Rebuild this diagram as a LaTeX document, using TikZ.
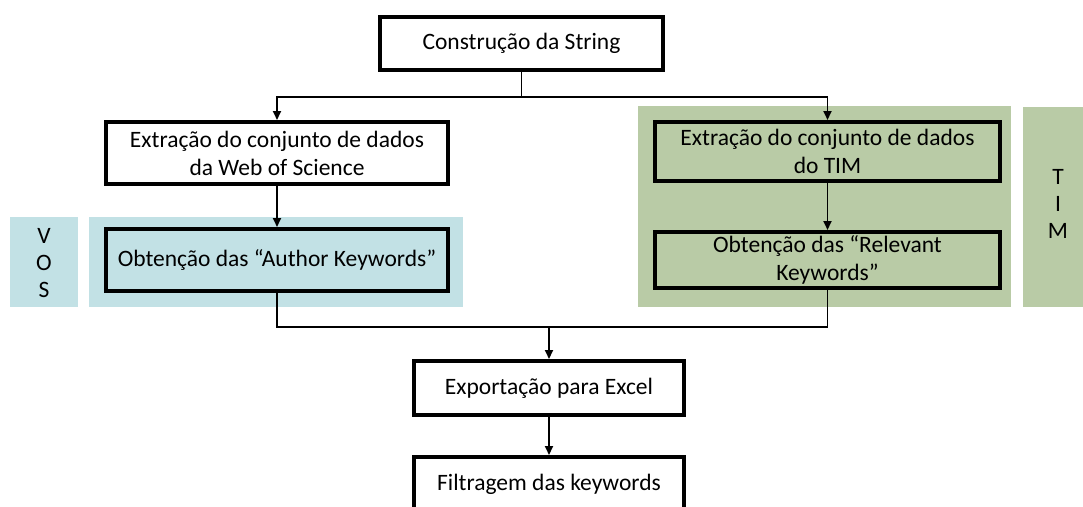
\documentclass[tikz,border=0pt]{standalone}
\usepackage{fontspec}
\setmainfont{Carlito}
\usetikzlibrary{arrows.meta}
\definecolor{vosblue}{HTML}{C2E1E5}
\definecolor{timgreen}{HTML}{B9CBA6}
\tikzset{
  stepbox/.style={draw=black, line width=4pt, align=center, inner sep=0pt,
    font=\fontsize{23.5}{28}\selectfont},
  conn/.style={draw=black, line width=1.8pt},
  arr/.style={conn, -{Triangle[length=9pt,width=8pt]}},
  sidelabel/.style={align=center, inner sep=0pt, font=\fontsize{23.5}{27}\selectfont}
}
\begin{document}
\begin{tikzpicture}[x=1pt,y=-1pt]
\useasboundingbox (0,0) rectangle (1083,506);
\clip (0,0) rectangle (1083,506);
% backgrounds
\fill[vosblue] (10,217) rectangle (78,307);
\fill[vosblue] (89,217) rectangle (463,307);
\fill[timgreen] (638,106) rectangle (1011,307);
\fill[timgreen] (1023,107) rectangle (1090,307);
\node[sidelabel] (vos) at (44,263) {V\\O\\S};
\node[sidelabel] (timl) at (1058,204) {T\\I\\M};
% boxes
\node[stepbox, fill=white, minimum width=283pt, minimum height=53pt] (cs) at (521.5,43.5) {Construção da String};
\node[stepbox, fill=white, minimum width=342pt, minimum height=62pt] (wos) at (277,153) {Extração do conjunto de dados\\da Web of Science};
\node[stepbox, fill=vosblue, minimum width=342pt, minimum height=62pt] (auth) at (277,260) {Obtenção das “Author Keywords”};
\node[stepbox, fill=timgreen, minimum width=345pt, minimum height=59pt] (tim) at (827.5,151.5) {Extração do conjunto de dados\\do TIM};
\node[stepbox, fill=timgreen, minimum width=345pt, minimum height=56pt] (rel) at (827.5,260) {Obtenção das “Relevant\\Keywords”};
\node[stepbox, fill=white, minimum width=270pt, minimum height=54pt] (exp) at (549,388) {Exportação para Excel};
\node[stepbox, fill=white, minimum width=270pt, minimum height=54pt] (fil) at (549,484) {Filtragem das keywords};
% connectors
\coordinate (j1) at (521.5,97);
\coordinate (j2) at (549,327);
\draw[conn] (cs.south) -- (j1);
\draw[arr] (j1) -| (wos.north);
\draw[arr] (j1) -| (tim.north);
\draw[arr] (wos.south) -- (auth.north);
\draw[arr] (tim.south) -- (rel.north);
\draw[conn] (auth.south) |- (j2) -| (rel.south);
\draw[arr] (j2) -- (exp.north);
\draw[arr] (exp.south) -- (fil.north);
\end{tikzpicture}
\end{document}
